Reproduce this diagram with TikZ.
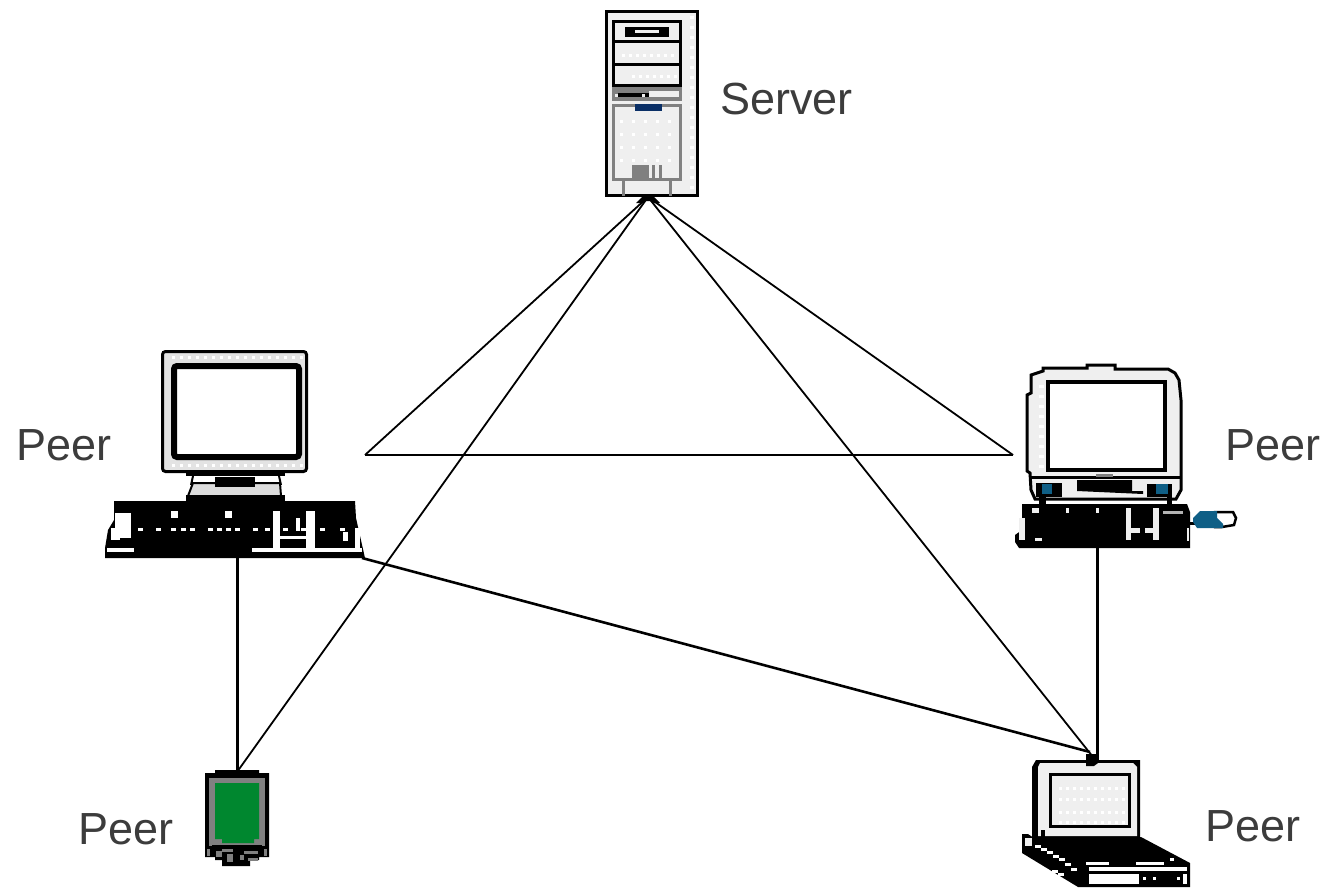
\documentclass[tikz,border=0pt]{standalone}
\usepackage{fontspec}
\setmainfont{Liberation Sans}
\definecolor{lite}{HTML}{EFEFEF}
\definecolor{midg}{HTML}{808080}
\definecolor{navy}{HTML}{0A2F66}
\definecolor{teal}{HTML}{0F5F86}
\definecolor{pda}{HTML}{00872F}
\definecolor{txt}{HTML}{3C3C3C}
\tikzset{
  label text/.style={font=\fontsize{45}{45}\selectfont,text=txt,anchor=base west,inner sep=0pt},
  body/.style={draw=black,line width=3pt,fill=lite,inner sep=0pt,minimum width=0pt},
  wire/.style={draw=black,line width=1.8pt},
  wire heavy/.style={draw=black,line width=3pt},
  ink/.style={fill=black,draw=none},
  wht/.style={fill=white,draw=none},
  lit/.style={fill=lite,draw=none},
  gry/.style={fill=midg,draw=none},
  dots/.style={fill=white,draw=none}
}
\newcommand{\dotrow}[4]{\foreach \dotx in {#1,#2,...,#3} \fill[dots] (\dotx,#4) rectangle ++(3,3);}
\begin{document}
\begin{tikzpicture}[x=1pt,y=-1pt]
\useasboundingbox (0,0) rectangle (1327,888);
\fill[white] (0,0) rectangle (1327,888);

% ---------- ports
\coordinate (serverPort) at (648,197);
\coordinate (hubL) at (365,455);
\coordinate (hubR) at (1013,455);
\coordinate (pcLdown) at (237,558);
\coordinate (pcLside) at (362,558);
\coordinate (pcRdown) at (1097,548);
\coordinate (pdaTop) at (237,772);
\coordinate (lapA) at (1093,757);
\coordinate (lapB) at (1090,752);
\coordinate (lapC) at (1097,762);

% ---------- connectors
\draw[wire] (serverPort) -- (hubL);
\draw[wire] (serverPort) -- (hubR);
\draw[wire] (serverPort) -- (pdaTop);
\draw[wire] (serverPort) -- (lapA);
\draw[draw=black,line width=2.4pt] (hubL) -- (hubR);
\draw[wire heavy] (pcLdown) -- (pdaTop);
\draw[wire heavy] (pcRdown) -- (lapC);
\draw[draw=black,line width=2.6pt] (pcLside) -- (lapB);

% ---------- server
\node[body,minimum width=91pt,minimum height=184pt] (server) at (652,103.5) {};
\foreach \y in {16,26,...,186} {\fill[dots] (690,\y) rectangle ++(4,3);}
\draw[black,line width=3pt,fill=lite] (613.5,21.5) rectangle (680.5,85.5);
\dotrow{622}{629}{676}{54}
\dotrow{632}{639}{676}{75}
\draw[black,line width=3pt] (613,42) -- (681,42) (613,65) -- (681,65);
\fill[ink] (625,27) rectangle (669,37);
\fill[lit] (635,30) rectangle (659,33);
\fill[gry] (612,87) rectangle (682,101);
\fill[lit] (649,91) rectangle (679,97);
\fill[ink] (618,93) rectangle (649,97);
\fill[lit] (615,94) rectangle (618,97);
\fill[lit] (642,94) rectangle (645,97);
\draw[midg,line width=3pt,fill=lite] (613.5,105.5) rectangle (680.5,179.5);
\foreach \y in {120,133,146,159} {\dotrow{620}{632}{676}{\y}}
\fill[navy] (635,104) rectangle (662,111);
\fill[gry] (632,165) rectangle (649,178);
\fill[gry] (652,165) rectangle (655,178);
\fill[gry] (659,165) rectangle (662,178);
\fill[gry] (622,181) rectangle (625,196);
\fill[gry] (669,181) rectangle (672,196);
\fill[ink] (642,197) -- (654,197) -- (660,203) -- (654,203) -- (650,201) -- (646,201) -- (642,203) -- (636,203) -- cycle;

% ---------- left peer
\node[body,minimum width=144pt,minimum height=120pt,rounded corners=3pt,fill=lite!95!black] (pcL) at (234.5,411.5) {};
\dotrow{172}{180}{300}{356}
\dotrow{172}{180}{300}{464}
\draw[black,line width=6pt,fill=white,rounded corners=3pt] (174,366) rectangle (299,457);
\fill[ink] (186,473) rectangle (285,476);
\fill[lite!92!black,draw=black,line width=2pt] (193,483) -- (280,483) -- (281,496) -- (188,496) -- cycle;
\draw[black,line width=2pt] (193,476) -- (191,485) (279,476) -- (281,485);
\fill[ink] (215,477) rectangle (255,487);
\fill[ink] (186,495) -- (285,495) -- (285,502) -- (186,502) -- cycle;
\fill[ink] (114,501) -- (355,501) -- (356,518) -- (365,558) -- (105,558) -- (105,548) -- (108,530) -- (114,520) -- cycle;
\fill[white] (115,513) rectangle (131,538);
\fill[white] (111,528) rectangle (120,540);
\fill[white] (107,548) rectangle (134,552);
\fill[white] (171,511) rectangle (178,518);
\fill[white] (225,511) rectangle (232,518);
\foreach \x in {138,156,171,181,190,208,217,226,235,253,265,283,301,320,340} \fill[white] (\x,528) rectangle ++(5,3);
\fill[white] (252,548) rectangle (362,552);
\fill[white] (273,511) rectangle (280,548);
\fill[white] (306,511) rectangle (315,548);
\fill[white] (280,536) rectangle (306,539);
\fill[white] (296,518) rectangle (300,531);
\fill[white] (355,528) rectangle (360,548);
\fill[white] (343,532) rectangle (348,541);

% ---------- right peer
\node[inner sep=0pt,minimum width=158pt,minimum height=138pt] (pcR) at (1104,432) {};
\fill[lite,draw=black,line width=3pt] (1087,365) -- (1115,365) -- (1115,369) -- (1168,369) -- (1175,373) -- (1179,380) -- (1181,400) -- (1181,490) -- (1176,499) -- (1035,499) -- (1031,490) -- (1030,473) -- (1027,471) -- (1027,395) -- (1031,393) -- (1031,375) -- (1043,371) -- (1043,368) -- (1087,368) -- cycle;
\foreach \y in {385,395,...,465} {\fill[white] (1039,\y) rectangle ++(5,3);}
\draw[black,line width=3.6pt,fill=white] (1048,382) rectangle (1165,470);
\draw[black,line width=3pt] (1030,477.5) -- (1181,477.5);
\fill[midg] (1096,474) rectangle (1113,477);
\fill[ink] (1036,483) rectangle (1062,497);
\fill[teal] (1042,484) rectangle (1052,494);
\fill[ink] (1147,484) rectangle (1172,497);
\fill[teal] (1156,484) rectangle (1168,494);
\fill[ink] (1077,480) -- (1132,480) -- (1132,491) -- (1143,491) -- (1143,494) -- (1077,491) -- cycle;
\fill[ink] (1039,497) rectangle (1046,504);
\fill[ink] (1167,497) rectangle (1172,504);
\fill[ink] (1022,504) -- (1187,504) -- (1190,512) -- (1190,548) -- (1019,548) -- (1015,542) -- (1015,535) -- (1022,530) -- cycle;
\fill[lit] (1032,508) rectangle (1039,513);
\fill[lit] (1066,508) rectangle (1069,513);
\fill[lit] (1096,508) rectangle (1099,513);
\fill[lit] (1126,508) rectangle (1131,540);
\fill[lit] (1153,508) rectangle (1159,540);
\fill[lit] (1131,528) rectangle (1140,533);
\fill[lit] (1145,528) rectangle (1153,533);
\fill[midg!60] (1163,511) rectangle (1183,514);
\fill[lit] (1019,518) rectangle (1025,540);
\fill[lit] (1187,528) rectangle (1189,541);
\fill[lit] (1035,538) rectangle (1042,541);
% plug
\fill[ink] (1190,522) rectangle (1199,525);
\draw[black,line width=2.5pt,fill=white] (1215,512) -- (1233,512) -- (1236,518) -- (1234,525) -- (1222,527) -- (1215,527) -- cycle;
\fill[teal] (1200,511) -- (1217,511) -- (1217,518) -- (1223,524) -- (1223,528) -- (1197,528) -- (1193,522) -- (1193,518) -- cycle;

% ---------- PDA
\node[inner sep=0pt,minimum width=64pt,minimum height=95pt] (pdaBody) at (237,817.5) {};
\fill[ink] (215,770) -- (259,770) -- (259,773) -- (269,773) -- (269,857) -- (259,857) -- (259,860) -- (250,860) -- (250,866) -- (222,866) -- (222,860) -- (215,860) -- (215,857) -- (205,857) -- (205,773) -- (215,773) -- cycle;
\fill[midg] (209,778) -- (265,778) -- (265,846) -- (209,846) -- cycle;
\fill[pda] (215,783) -- (259,783) -- (259,839) -- (254,839) -- (254,843) -- (222,843) -- (222,839) -- (215,839) -- cycle;
\fill[ink] (212,845) rectangle (262,849);
\fill[midg] (216,851) rectangle (222,857);
\fill[midg] (222,849) rectangle (233,852);
\fill[midg] (227,854) rectangle (233,862);
\fill[midg] (244,851) rectangle (258,854);
\fill[midg] (240,855) rectangle (244,860);
\fill[midg] (248,858) rectangle (258,861);
\fill[midg] (207,849) rectangle (210,856);
\fill[midg] (264,849) rectangle (267,856);

% ---------- laptop
\node[inner sep=0pt,minimum width=168pt,minimum height=127pt] (lap) at (1106,823.5) {};
\fill[ink] (1022,834) -- (1028,834) -- (1034,838) -- (1141,837) -- (1190,863) -- (1190,887) -- (1078,887) -- (1022,853) -- cycle;
\fill[ink] (1036,760) -- (1140,760) -- (1140,838) -- (1032,838) -- (1032,767) -- cycle;
\fill[lit] (1040,763) -- (1133,763) -- (1137,767) -- (1137,836) -- (1038,836) -- (1038,767) -- cycle;
\draw[black,line width=3pt,fill=lite] (1050,774) rectangle (1129,826);
\foreach \y in {787,798,811,821} {\dotrow{1059}{1066}{1122}{\y}}
\fill[ink] (1041,830) rectangle (1045,840);
\fill[lit] (1047,831) rectangle (1051,836);
\fill[ink] (1086,754) -- (1098,754) -- (1098,763) -- (1094,766) -- (1086,766) -- cycle;
\fill[lit] (1025,838) rectangle (1032,846);
\foreach \x/\y in {1035/845,1041/848,1047/851,1053/855,1059/858,1065/863,1071/868,1052/870,1058/873}
  \fill[white] (\x,\y) rectangle ++(6,2.5);
\fill[white] (1086,862) rectangle (1109,864.5);
\fill[white] (1136,862) rectangle (1164,864.5);
\fill[white] (1089,867) rectangle (1187,871);
\fill[white] (1089,874) rectangle (1139,884);
\fill[white] (1143,877) rectangle (1146,880);
\fill[white] (1153,877) rectangle (1156,880);
\fill[white] (1177,877) rectangle (1180,880);
\fill[white] (1183,874) rectangle (1187,884);
\fill[white] (1170,858) rectangle (1174,861);

% ---------- labels
\node[label text] (lblServer) at (720,115) {Server};
\node[label text] (lblPeerL) at (16,460) {Peer};
\node[label text] (lblPeerR) at (1225,460) {Peer};
\node[label text] (lblPeerP) at (78,844) {Peer};
\node[label text] (lblPeerN) at (1205,841) {Peer};
\end{tikzpicture}
\end{document}
